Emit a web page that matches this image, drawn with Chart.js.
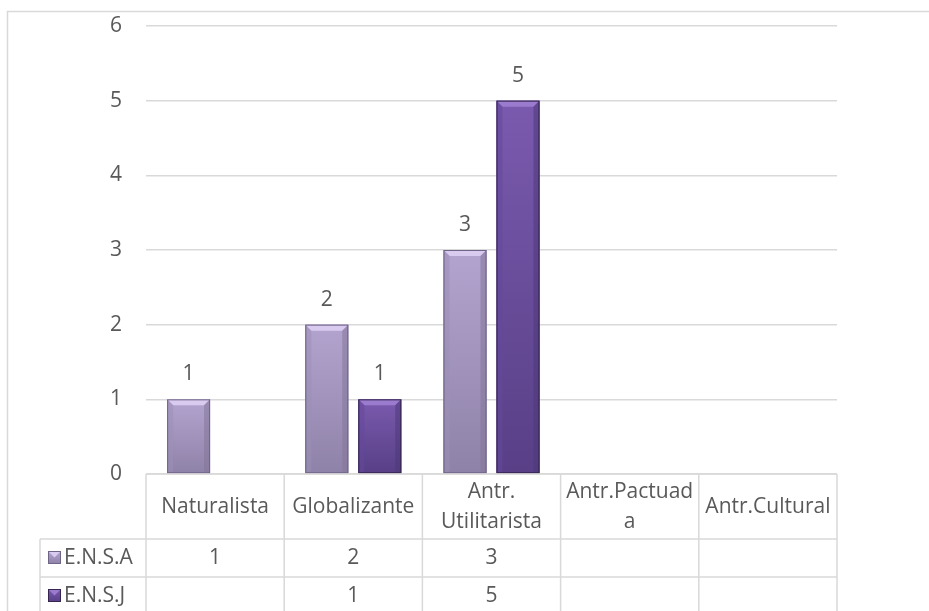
<!DOCTYPE html>
<html>
<head>
<meta charset="utf-8">
<script src="https://cdn.jsdelivr.net/npm/chart.js@4.4.1/dist/chart.umd.min.js"></script>
<style>
  html, body { margin: 0; padding: 0; background: #ffffff; }
  #wrap { width: 929px; height: 611px; position: relative; }
</style>
</head>
<body>
<div id="wrap"><canvas id="chart" width="929" height="611"></canvas></div>
<script>
// Category labels (multi-line ones are split as they wrap in the table header)
const categories = ['Naturalista', 'Globalizante', ['Antr.', 'Utilitarista'], ['Antr.Pactuad', 'a'], 'Antr.Cultural'];
const seriesNames = ['E.N.S.A', 'E.N.S.J'];
const ensaValues = [1, 2, 3, null, null];
const ensjValues = [null, 1, 5, null, null];
const yTickValues = [0, 1, 2, 3, 4, 5, 6];

const FONT = '"Open Sans", "Liberation Sans", sans-serif';
const TEXT = '#595959';
const LINE = '#d9d9d9';

// Colour sets for the bevelled bars: face gradient, top bevel, sides, outline
const palettes = [
  { face: ['#b3a4cf', '#8f82a8'], top: '#d9cbef', left: '#9c8fb6', right: '#837799', bottom: '#7f7396', edge: '#6f6587' },
  { face: ['#7a5aae', '#583f86'], top: '#9a7bce', left: '#65499a', right: '#4f387a', bottom: '#4a3474', edge: '#35254f' }
];

// Outer frame of the chart object
const framePlugin = {
  id: 'frame',
  beforeDraw(chart) {
    const ctx = chart.ctx;
    ctx.save();
    ctx.strokeStyle = LINE;
    ctx.lineWidth = 1.5;
    ctx.beginPath();
    ctx.moveTo(7.5, chart.height);
    ctx.lineTo(7.5, 11.5);
    ctx.lineTo(chart.width, 11.5);
    ctx.stroke();
    ctx.restore();
  }
};

// Bevel shading drawn over each bar, using the bar element geometry
const bevelPlugin = {
  id: 'bevel',
  afterDatasetsDraw(chart) {
    const ctx = chart.ctx;
    chart.data.datasets.forEach((ds, di) => {
      const meta = chart.getDatasetMeta(di);
      const pal = palettes[di];
      meta.data.forEach((el, i) => {
        if (ds.data[i] === null || ds.data[i] === undefined) return;
        const p = el.getProps(['x', 'y', 'base', 'width'], true);
        const l = p.x - p.width / 2, r = p.x + p.width / 2, t = p.y, b = p.base;
        const bv = 6;
        ctx.save();
        const g = ctx.createLinearGradient(0, t, 0, b);
        g.addColorStop(0, pal.face[0]);
        g.addColorStop(1, pal.face[1]);
        ctx.fillStyle = g;
        ctx.fillRect(l, t, r - l, b - t);
        // top bevel
        ctx.fillStyle = pal.top;
        ctx.beginPath();
        ctx.moveTo(l, t); ctx.lineTo(r, t); ctx.lineTo(r - bv, t + bv); ctx.lineTo(l + bv, t + bv); ctx.closePath();
        ctx.fill();
        // left side
        ctx.fillStyle = pal.left;
        ctx.globalAlpha = 0.55;
        ctx.beginPath();
        ctx.moveTo(l, t); ctx.lineTo(l + bv, t + bv); ctx.lineTo(l + bv, b - 2); ctx.lineTo(l, b); ctx.closePath();
        ctx.fill();
        // right side
        ctx.fillStyle = pal.right;
        ctx.beginPath();
        ctx.moveTo(r, t); ctx.lineTo(r - bv, t + bv); ctx.lineTo(r - bv, b - 2); ctx.lineTo(r, b); ctx.closePath();
        ctx.fill();
        ctx.globalAlpha = 1;
        // outline
        ctx.strokeStyle = pal.edge;
        ctx.lineWidth = 1;
        ctx.strokeRect(l + 0.5, t + 0.5, r - l - 1, b - t - 1);
        ctx.restore();
      });
    });
  }
};

// Value labels above each bar
const valueLabelPlugin = {
  id: 'valueLabels',
  afterDatasetsDraw(chart) {
    const ctx = chart.ctx;
    ctx.save();
    ctx.font = '21px ' + FONT;
    ctx.fillStyle = TEXT;
    ctx.textAlign = 'center';
    ctx.textBaseline = 'middle';
    chart.data.datasets.forEach((ds, di) => {
      const meta = chart.getDatasetMeta(di);
      meta.data.forEach((el, i) => {
        const v = ds.data[i];
        if (v === null || v === undefined) return;
        const p = el.getProps(['x', 'y'], true);
        ctx.fillText(String(v), p.x, p.y - 25);
      });
    });
    ctx.restore();
  }
};

// Data table under the plot: header with categories, one row per series
const dataTablePlugin = {
  id: 'dataTable',
  afterDraw(chart) {
    const ctx = chart.ctx;
    const xs = chart.scales.x;
    const ca = chart.chartArea;
    const n = categories.length;
    const step = xs.getPixelForValue(1) - xs.getPixelForValue(0);
    const edges = [];
    for (let i = 0; i < n; i++) edges.push(xs.getPixelForValue(i) - step / 2);
    edges.push(xs.getPixelForValue(n - 1) + step / 2);

    const top = ca.bottom;
    const headBottom = top + 65;
    const rowH = 38;
    const legendLeft = 40;
    const rows = [ensaValues, ensjValues];

    ctx.save();
    ctx.strokeStyle = LINE;
    ctx.lineWidth = 1.5;
    ctx.beginPath();
    // horizontal lines
    ctx.moveTo(edges[0], top); ctx.lineTo(edges[n], top);
    for (let r = 0; r <= rows.length; r++) {
      const y = headBottom + r * rowH;
      ctx.moveTo(legendLeft, y); ctx.lineTo(edges[n], y);
    }
    // vertical lines
    edges.forEach(x => { ctx.moveTo(x, top); ctx.lineTo(x, chart.height); });
    ctx.moveTo(legendLeft, headBottom); ctx.lineTo(legendLeft, chart.height);
    ctx.stroke();

    ctx.font = '21px ' + FONT;
    ctx.fillStyle = TEXT;
    ctx.textAlign = 'center';
    ctx.textBaseline = 'middle';
    // header labels
    const headMid = (top + headBottom) / 2 + 1;
    const lineH = 30;
    categories.forEach((lab, i) => {
      const cx = xs.getPixelForValue(i);
      const lines = Array.isArray(lab) ? lab : [lab];
      const y0 = headMid - (lines.length - 1) * lineH / 2;
      lines.forEach((t, k) => ctx.fillText(t, cx, y0 + k * lineH));
    });
    // series rows
    rows.forEach((vals, r) => {
      const cy = headBottom + r * rowH + rowH / 2;
      vals.forEach((v, i) => {
        if (v === null || v === undefined) return;
        ctx.fillText(String(v), xs.getPixelForValue(i), cy);
      });
      // legend key
      const pal = palettes[r];
      const kx = 48, ky = cy - 7, ks = 13;
      const g = ctx.createLinearGradient(0, ky, 0, ky + ks);
      g.addColorStop(0, pal.face[0]); g.addColorStop(1, pal.face[1]);
      ctx.fillStyle = g;
      ctx.fillRect(kx, ky, ks, ks);
      ctx.fillStyle = pal.top;
      ctx.beginPath();
      ctx.moveTo(kx, ky); ctx.lineTo(kx + ks, ky); ctx.lineTo(kx + ks / 2, ky + ks / 2); ctx.closePath();
      ctx.fill();
      ctx.strokeStyle = pal.edge; ctx.lineWidth = 1;
      ctx.strokeRect(kx + 0.5, ky + 0.5, ks - 1, ks - 1);
      ctx.fillStyle = TEXT;
      ctx.textAlign = 'left';
      ctx.fillText(seriesNames[r], 64, cy);
      ctx.textAlign = 'center';
    });
    ctx.restore();
  }
};

new Chart(document.getElementById('chart'), {
  type: 'bar',
  data: {
    labels: categories,
    datasets: [
      { label: seriesNames[0], data: ensaValues, backgroundColor: palettes[0].face[1] },
      { label: seriesNames[1], data: ensjValues, backgroundColor: palettes[1].face[1] }
    ]
  },
  options: {
    responsive: false,
    animation: false,
    devicePixelRatio: 1,
    categoryPercentage: 0.767,
    barPercentage: 0.81,
    layout: { padding: { left: 0, top: 26, right: 92, bottom: 137 } },
    plugins: { legend: { display: false }, tooltip: { enabled: false }, title: { display: false } },
    scales: {
      x: {
        display: true,
        grid: { display: false },
        border: { display: false },
        ticks: { display: false },
        afterFit(scale) { scale.height = 0; }
      },
      y: {
        min: 0,
        max: 6,
        afterBuildTicks(scale) { scale.ticks = yTickValues.map(v => ({ value: v })); },
        afterFit(scale) { scale.width = 146; scale.paddingTop = 0; scale.paddingBottom = 0; },
        grid: { color: LINE, lineWidth: 1.5, drawTicks: false },
        border: { display: false },
        ticks: { color: TEXT, padding: 24, font: { family: FONT, size: 21 } }
      }
    }
  },
  plugins: [framePlugin, bevelPlugin, valueLabelPlugin, dataTablePlugin]
});
</script>
</body>
</html>
